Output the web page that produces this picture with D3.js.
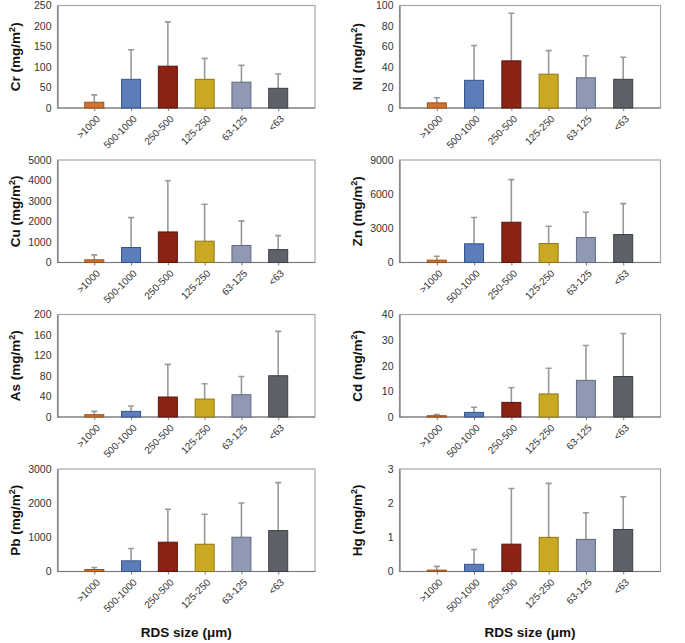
<!DOCTYPE html>
<html><head><meta charset="utf-8">
<script src="https://cdn.jsdelivr.net/npm/d3@7"></script>
<style>body{margin:0;background:#fff;} svg{display:block;font-family:"Liberation Sans",Arial,sans-serif;}</style>
</head><body>
<svg id="c" width="685" height="643"></svg>
<script>
const categories = [">1000","500-1000","250-500","125-250","63-125","<63"];
const colors = ["#d4742c","#5b7dba","#8b2213","#c9a822","#8f99b3","#5f6169"];
const strokes = ["#9a4e18","#34528a","#5a150a","#8f7612","#626a82","#3d3f45"];
const elements = ["Cr","Ni","Cu","Zn","As","Cd","Pb","Hg"];
const CrMean = [14,70,102,70,63,48],   CrSd = [32,142,210,121,104,83];
const NiMean = [5,27,46,33,29.5,28],   NiSd = [10,61,92.5,56,51,49.5];
const CuMean = [130,730,1490,1040,830,630], CuSd = [370,2190,3990,2840,2030,1310];
const ZnMean = [205,1640,3535,1665,2190,2455], ZnSd = [555,3945,7275,3185,4410,5170];
const AsMean = [4.5,11,39,35,43.5,80.5], AsSd = [11,21.4,102.6,65,79,167];
const CdMean = [0.5,1.8,5.7,9.0,14.3,15.8], CdSd = [1.0,3.8,11.4,19,27.9,32.6];
const PbMean = [58,312,857,798,1003,1198], PbSd = [117,672,1821,1675,2006,2600];
const HgMean = [0.04,0.21,0.80,1.0,0.94,1.23], HgSd = [0.15,0.645,2.43,2.58,1.72,2.19];
const CrTicks=[0,50,100,150,200,250], NiTicks=[0,20,40,60,80,100], CuTicks=[0,1000,2000,3000,4000,5000],
      ZnTicks=[0,3000,6000,9000], AsTicks=[0,40,80,120,160,200], CdTicks=[0,10,20,30,40],
      PbTicks=[0,1000,2000,3000], HgTicks=[0,1,2,3];
const xTitle = "RDS size (\u03bcm)";

const panels = [
  {name:"Cr",mean:CrMean,sd:CrSd,ticks:CrTicks,col:0,row:0},
  {name:"Ni",mean:NiMean,sd:NiSd,ticks:NiTicks,col:1,row:0},
  {name:"Cu",mean:CuMean,sd:CuSd,ticks:CuTicks,col:0,row:1},
  {name:"Zn",mean:ZnMean,sd:ZnSd,ticks:ZnTicks,col:1,row:1},
  {name:"As",mean:AsMean,sd:AsSd,ticks:AsTicks,col:0,row:2},
  {name:"Cd",mean:CdMean,sd:CdSd,ticks:CdTicks,col:1,row:2},
  {name:"Pb",mean:PbMean,sd:PbSd,ticks:PbTicks,col:0,row:3},
  {name:"Hg",mean:HgMean,sd:HgSd,ticks:HgTicks,col:1,row:3}
];
const colX = [[57.5,315],[399.5,660.5]];
const rowY = [[5.5,108],[160,262.5],[314.5,417],[469,571.5]];

const svg = d3.select("#c");
panels.forEach(p=>{
  const [x0,x1] = colX[p.col], [y0,y1] = rowY[p.row];
  const x = d3.scaleLinear().domain([0,7]).range([x0,x1]);
  const y = d3.scaleLinear().domain([0,p.ticks[p.ticks.length-1]]).range([y1,y0]);
  const g = svg.append("g");
  // frame
  g.append("rect").attr("x",x0).attr("y",y0).attr("width",x1-x0).attr("height",y1-y0)
    .attr("fill","none").attr("stroke","#a8a8a8").attr("stroke-width",1.2);
  // y axis
  const ya = g.append("g").attr("transform",`translate(${x0},0)`)
    .call(d3.axisLeft(y).tickValues(p.ticks).tickSize(0).tickPadding(6).tickFormat(d3.format("d")));
  ya.select(".domain").attr("stroke","#777").attr("stroke-width",1.2);
  ya.selectAll("text").attr("font-size",10.5).attr("fill","#333").attr("font-family","Liberation Sans, Arial, sans-serif");
  // x axis
  const xa = g.append("g").attr("transform",`translate(0,${y1})`)
    .call(d3.axisBottom(x).tickValues([1,2,3,4,5,6]).tickSize(3).tickFormat(""));
  xa.select(".domain").attr("stroke","#777").attr("stroke-width",1.2).attr("d",`M${x0},0H${x1}`);
  xa.selectAll(".tick line").attr("stroke","#777");
  // bars
  const bw = 19;
  // error bars
  g.selectAll(".err").data(p.mean).enter().append("path")
    .attr("d",(d,i)=>`M${x(i+1)},${y(d)}V${y(p.sd[i])}M${x(i+1)-3},${y(p.sd[i])}H${x(i+1)+3}`)
    .attr("stroke","#9a9a9a").attr("stroke-width",1.6).attr("fill","none");
  g.selectAll(".bar").data(p.mean).enter().append("rect")
    .attr("x",(d,i)=>x(i+1)-bw/2).attr("width",bw)
    .attr("y",d=>y(d)).attr("height",d=>y1-y(d))
    .attr("fill",(d,i)=>colors[i]).attr("stroke",(d,i)=>strokes[i]).attr("stroke-width",1);
  // category labels
  g.selectAll(".cl").data(categories).enter().append("text")
    .attr("transform",(d,i)=>`translate(${x(i+1)+4},${y1+9}) rotate(-45)`)
    .attr("text-anchor","end").attr("dy","0.35em").attr("font-size",10).attr("fill","#333")
    .text(d=>d);
  // y title
  const t = g.append("text")
    .attr("transform",`translate(${x0-38},${(y0+y1)/2}) rotate(-90)`)
    .attr("text-anchor","middle").attr("font-size",13.5).attr("font-weight","bold").attr("fill","#111");
  t.append("tspan").text(p.name+" (mg/m");
  t.append("tspan").attr("font-size",9).attr("dy",-5).text("2");
  t.append("tspan").attr("dy",5).text(")");
});
[0,1].forEach(c=>{
  svg.append("text").attr("x",(colX[c][0]+colX[c][1])/2).attr("y",637)
    .attr("text-anchor","middle").attr("font-size",13.5).attr("font-weight","bold").attr("fill","#111")
    .text(xTitle);
});
</script>
</body></html>
